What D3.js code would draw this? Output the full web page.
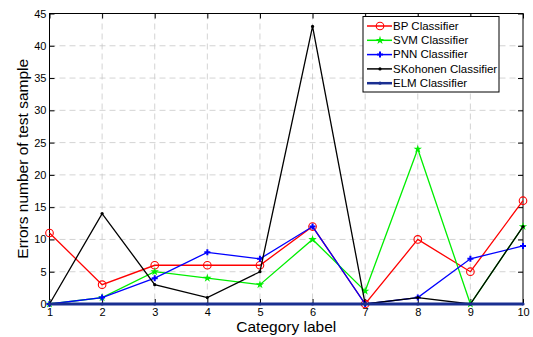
<!DOCTYPE html>
<html><head><meta charset="utf-8">
<script src="https://cdn.jsdelivr.net/npm/d3@7"></script>
<style>body{margin:0;background:#fff}svg{display:block}text{font-family:"Liberation Sans",Arial,sans-serif}</style>
</head><body><svg id="c" width="533" height="337"></svg>
<script>
const categories = [1,2,3,4,5,6,7,8,9,10];
const bpValues = [11,3,6,6,6,12,0,10,5,16];
const svmValues = [0,1,5,4,3,10,2,24,0,12];
const pnnValues = [0,1,4,8,7,12,0,1,7,9];
const skohValues = [0,14,3,1,5,43,0,1,0,12];
const elmValues = [0,0,0,0,0,0,0,0,0,0];
const yTicks = [0,5,10,15,20,25,30,35,40,45];
const seriesNames = ["BP Classifier","SVM Classifier","PNN Classifier","SKohonen Classifier","ELM Classifier"];

const series = [
  {name:seriesNames[0], values:bpValues, color:"#ff0000", marker:"circle", w:1.3},
  {name:seriesNames[1], values:svmValues, color:"#00ee00", marker:"star", w:1.3},
  {name:seriesNames[2], values:pnnValues, color:"#0000ff", marker:"plus", w:1.3},
  {name:seriesNames[3], values:skohValues, color:"#000000", marker:"dot", w:1.3},
  {name:seriesNames[4], values:elmValues, color:"#1a2f91", marker:"dot", w:3}
];

const L=49.5, R=523, T=13.5, B=304;
const svg = d3.select("#c");
const x = d3.scaleLinear().domain([1,10]).range([L,R]);
const y = d3.scaleLinear().domain([0,45]).range([B,T]);

// grid
const g = svg.append("g");
g.selectAll(".gx").data(categories.slice(1,-1)).enter().append("line")
  .attr("x1",d=>x(d)).attr("x2",d=>x(d)).attr("y1",T).attr("y2",B)
  .attr("stroke","#c8c8c8").attr("stroke-width",0.8).attr("stroke-dasharray","6,4");
g.selectAll(".gy").data(yTicks.slice(1,-1)).enter().append("line")
  .attr("y1",d=>y(d)).attr("y2",d=>y(d)).attr("x1",L).attr("x2",R)
  .attr("stroke","#c8c8c8").attr("stroke-width",0.8).attr("stroke-dasharray","6,4");

// axes
const xa = svg.append("g").attr("transform",`translate(0,${B})`)
  .call(d3.axisBottom(x).tickValues(categories).tickSize(-5).tickFormat(d3.format("d")));
xa.selectAll("text").attr("dy",null).attr("y",12);
const xt = svg.append("g").attr("transform",`translate(0,${T})`)
  .call(d3.axisTop(x).tickValues(categories).tickSize(-5).tickFormat(""));
const ya = svg.append("g").attr("transform",`translate(${L},0)`)
  .call(d3.axisLeft(y).tickValues(yTicks).tickSize(-5).tickPadding(3));
const yr = svg.append("g").attr("transform",`translate(${R},0)`)
  .call(d3.axisRight(y).tickValues(yTicks).tickSize(-5).tickFormat(""));
[xa,xt,ya,yr].forEach(a=>{a.select(".domain").remove();a.selectAll("line").attr("stroke","#000");a.selectAll("text").attr("font-size",11).attr("font-family","Liberation Sans, Arial").attr("fill","#000");});
svg.append("rect").attr("x",L).attr("y",T).attr("width",R-L).attr("height",B-T)
  .attr("fill","none").attr("stroke","#000").attr("stroke-width",1);

// lines
const line = d3.line().x((d,i)=>x(categories[i])).y(d=>y(d));
function drawMarker(sel, m, color){
  if(m==="circle") sel.append("circle").attr("r",3.8).attr("fill","none").attr("stroke",color).attr("stroke-width",1.1);
  else if(m==="plus") sel.append("path").attr("d",d3.symbol(d3.symbolCross,20)()).attr("fill",color);
  else if(m==="star") sel.append("path").attr("d",d3.symbol(d3.symbolStar,22)()).attr("fill",color);
  else sel.append("circle").attr("r",1.6).attr("fill",color);
}
series.forEach(s=>{
  svg.append("path").datum(s.values).attr("d",line).attr("fill","none")
    .attr("stroke",s.color).attr("stroke-width",s.w);
  const mg = svg.append("g");
  s.values.forEach((v,i)=>{
    const gg = mg.append("g").attr("transform",`translate(${x(categories[i])},${y(v)})`);
    drawMarker(gg,s.marker,s.color);
  });
});

// labels
svg.append("text").attr("x",(L+R)/2).attr("y",332).attr("text-anchor","middle")
  .attr("font-size",15.5).text("Category label");
svg.append("text").attr("transform",`translate(28,${(T+B)/2}) rotate(-90)`).attr("text-anchor","middle")
  .attr("font-size",15.5).text("Errors number of test sample");

// legend
const lg = svg.append("g");
lg.append("rect").attr("x",363).attr("y",16.5).attr("width",136).attr("height",75.5)
  .attr("fill","#fff").attr("stroke","#000").attr("stroke-width",1);
series.forEach((s,i)=>{
  const yy = 26 + i*14.3;
  lg.append("line").attr("x1",367).attr("x2",392).attr("y1",yy).attr("y2",yy)
    .attr("stroke",s.color).attr("stroke-width",s.w===3?2.5:1.5);
  const mg = lg.append("g").attr("transform",`translate(380,${yy})`);
  drawMarker(mg,s.marker,s.color);
  lg.append("text").attr("x",393).attr("y",yy+3.6).attr("font-size",11.5).text(s.name);
});
</script></body></html>
